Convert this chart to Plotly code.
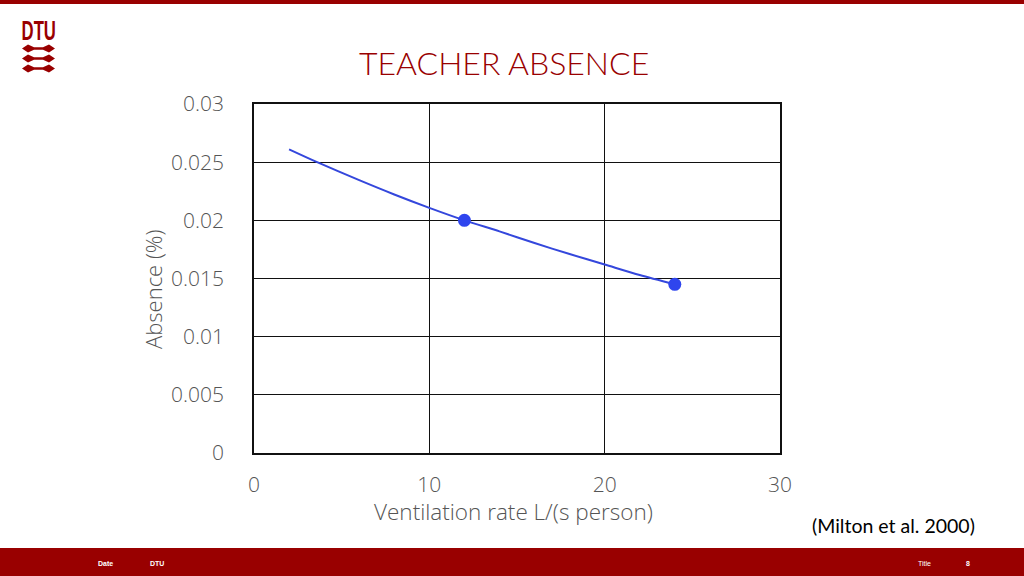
import plotly.graph_objects as go

# Data
curve_x = [2, 3.6, 6, 8, 10, 12, 14, 16, 18, 20, 22, 24]
curve_y = [0.0261, 0.0250, 0.02345, 0.02222, 0.02107, 0.0200, 0.01905, 0.01805, 0.0171, 0.0162, 0.0153, 0.0145]
point_x = [12, 24]
point_y = [0.0200, 0.0145]
x_ticks = [0, 10, 20, 30]
y_ticks = [0, 0.005, 0.01, 0.015, 0.02, 0.025, 0.03]
y_tick_text = ["0", "0.005", "0.01", "0.015", "0.02", "0.025", "0.03"]

W, H = 1024, 576
L, R, T, B = 254, 780, 104, 453
RED = "#990000"
GRAY = "#555555"
FONT = "Lato, Open Sans, sans-serif"
LIGHT = "Open Sans, Lato, sans-serif"


def px(x):
    return (x - L) / (R - L)


def py(y):
    return (B - y) / (B - T)


fig = go.Figure()
fig.add_trace(go.Scatter(x=curve_x, y=curve_y, mode="lines",
                         line=dict(color="#3447dc", width=2, shape="spline", smoothing=0.8),
                         hoverinfo="skip", showlegend=False))
fig.add_trace(go.Scatter(x=point_x, y=point_y, mode="markers",
                         marker=dict(color="#2f45ee", size=13),
                         showlegend=False))

axis_common = dict(showgrid=True, gridcolor="#111111", gridwidth=1.3,
                   showline=True, linecolor="#111111", linewidth=1.5, mirror=True,
                   zeroline=False, ticks="",
                   tickfont=dict(family=LIGHT, size=21, color=GRAY, weight=300))
fig.update_xaxes(range=[0, 30], tickvals=x_ticks, ticklabelstandoff=12, **axis_common)
fig.update_yaxes(range=[0, 0.03], tickvals=y_ticks, ticktext=y_tick_text, ticklabelstandoff=24, **axis_common)

shapes = []
# top bar
shapes.append(dict(type="rect", xref="paper", yref="paper",
                   x0=px(0), x1=px(W), y0=py(0), y1=py(4),
                   fillcolor=RED, line=dict(width=0), layer="below"))
# footer bar
shapes.append(dict(type="rect", xref="paper", yref="paper",
                   x0=px(0), x1=px(W), y0=py(548), y1=py(576),
                   fillcolor=RED, line=dict(width=0), layer="below"))
# DTU logo waves
for cy in [48.5, 58.5, 68.5]:
    pts = [(22, cy), (28, cy - 4), (34, cy - 1.3), (43, cy - 1.3), (49, cy - 4), (55, cy),
           (49, cy + 4), (43, cy + 1.3), (34, cy + 1.3), (28, cy + 4)]
    path = "M " + " L ".join(f"{px(a):.5f},{py(b):.5f}" for a, b in pts) + " Z"
    shapes.append(dict(type="path", xref="paper", yref="paper", path=path,
                       fillcolor=RED, line=dict(width=0)))

annotations = [
    dict(text="TEACHER ABSENCE", x=px(504), y=py(62), font=dict(family=FONT, size=32, color=RED, weight=300)),
    dict(text="<b>DTU</b>", x=px(38.5), y=py(31), font=dict(family="Liberation Sans, Arial, sans-serif", size=27, color=RED)),
    dict(text="Absence (%)", x=px(153), y=py(289), textangle=-90, font=dict(family=LIGHT, size=22, color=GRAY, weight=300)),
    dict(text="Ventilation rate L/(s person)", x=px(513), y=py(511), font=dict(family=LIGHT, size=22.5, color=GRAY, weight=300)),
    dict(text="(Milton et al. 2000)", x=px(893), y=py(525), font=dict(family=FONT, size=19.5, color="#000000")),
    dict(text="<b>Date</b>", x=px(105), y=py(563), font=dict(family="Liberation Sans, Arial", size=7, color="white")),
    dict(text="<b>DTU</b>", x=px(157), y=py(563), font=dict(family="Liberation Sans, Arial", size=7, color="white")),
    dict(text="Title", x=px(924), y=py(563), font=dict(family="Liberation Sans, Arial", size=7, color="white")),
    dict(text="<b>8</b>", x=px(968), y=py(563), font=dict(family="Liberation Sans, Arial", size=7, color="white")),
]
for a in annotations:
    a.update(xref="paper", yref="paper", showarrow=False, xanchor="center", yanchor="middle")

fig.update_layout(width=W, height=H,
                  margin=dict(l=L, r=W - R, t=T, b=H - B, pad=0),
                  plot_bgcolor="white", paper_bgcolor="white",
                  shapes=shapes, annotations=annotations, showlegend=False)

post = """
document.body.style.margin='0';
document.body.style.overflow='hidden';
var t = document.querySelector('.annotation[data-index="1"] text');
if (t) {
  t.style.transformBox = 'fill-box';
  t.style.transformOrigin = 'center';
  t.style.transform = 'scaleX(0.62)';
}
"""
fig.write_html("out.html", config={"displayModeBar": False}, post_script=post)
